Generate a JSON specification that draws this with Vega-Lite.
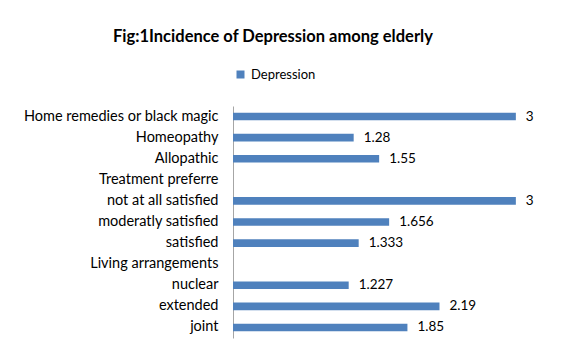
{
  "$schema": "https://vega.github.io/schema/vega-lite/v6.json",
  "autosize": "none",
  "width": 330,
  "height": 232,
  "padding": {"left": 233, "top": 106, "right": 4, "bottom": 11},
  "background": "white",
  "title": {
    "text": "Fig:1Incidence of Depression among elderly",
    "anchor": "start",
    "frame": "group",
    "dx": -120,
    "offset": 10,
    "baseline": "alphabetic",
    "font": "Lato",
    "fontSize": 16.5,
    "fontWeight": "bold",
    "color": "#000000"
  },
  "data": {
    "values": [
      {"category": "Home remedies or black magic", "series": "Depression", "value": 3},
      {"category": "Homeopathy", "series": "Depression", "value": 1.28},
      {"category": "Allopathic", "series": "Depression", "value": 1.55},
      {"category": "Treatment preferre", "series": "Depression", "value": null},
      {"category": "not at all satisfied", "series": "Depression", "value": 3},
      {"category": "moderatly satisfied", "series": "Depression", "value": 1.656},
      {"category": "satisfied", "series": "Depression", "value": 1.333},
      {"category": "Living arrangements", "series": "Depression", "value": null},
      {"category": "nuclear", "series": "Depression", "value": 1.227},
      {"category": "extended", "series": "Depression", "value": 2.19},
      {"category": "joint", "series": "Depression", "value": 1.85}
    ]
  },
  "encoding": {
    "y": {
      "field": "category",
      "type": "nominal",
      "scale": {
        "domain": ["Home remedies or black magic", "Homeopathy", "Allopathic", "Treatment preferre", "not at all satisfied", "moderatly satisfied", "satisfied", "Living arrangements", "nuclear", "extended", "joint"],
        "paddingInner": 0.64,
        "paddingOuter": 0.32
      },
      "axis": {
        "title": null,
        "ticks": false,
        "labelPadding": 15,
        "labelLimit": 0,
        "labelFont": "Lato",
        "labelFontSize": 14.5,
        "labelColor": "#000000",
        "domainColor": "#a6a6a6",
        "domainWidth": 1,
        "grid": false
      }
    },
    "x": {
      "field": "value",
      "type": "quantitative",
      "scale": {"domain": [0, 3.5], "nice": false},
      "axis": null
    }
  },
  "layer": [
    {
      "mark": {"type": "bar"},
      "encoding": {
        "color": {
          "field": "series",
          "type": "nominal",
          "scale": {"range": ["#4F81BD"]},
          "legend": {
            "title": null,
            "orient": "none",
            "legendX": 1,
            "legendY": -38,
            "symbolType": "square",
            "symbolSize": 64,
            "symbolStrokeWidth": 0,
            "labelFont": "Lato",
            "labelFontSize": 13,
            "labelColor": "#000000",
            "labelOffset": 4,
            "padding": 0
          }
        }
      }
    },
    {
      "transform": [{"filter": "isValid(datum.value)"}],
      "mark": {"type": "text", "align": "left", "dx": 10, "font": "Lato", "fontSize": 13.5, "color": "#000000"},
      "encoding": {
        "text": {"field": "value", "type": "quantitative", "format": "~g"}
      }
    }
  ],
  "config": {
    "view": {"stroke": null}
  }
}
